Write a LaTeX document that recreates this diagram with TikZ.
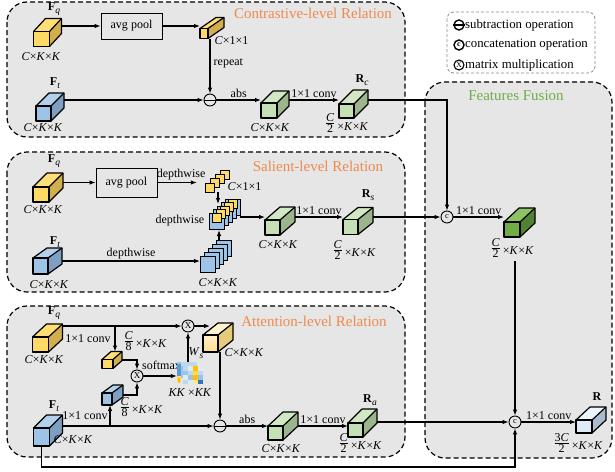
\documentclass[tikz,border=0pt]{standalone}
\usepackage{fontspec}
\setmainfont{Liberation Serif}
\usepackage{amsmath}
\usetikzlibrary{arrows.meta,calc}
\definecolor{panelgray}{HTML}{E6E6E6}
\definecolor{ttlorange}{HTML}{EE8A4E}
\definecolor{ttlgreen}{HTML}{70AD47}
\definecolor{ylwF}{HTML}{FFD966}\definecolor{ylwT}{HTML}{FFDE75}\definecolor{ylwS}{HTML}{D2AF4E}
\definecolor{bluF}{HTML}{9DC3E6}\definecolor{bluT}{HTML}{B4D1EC}\definecolor{bluS}{HTML}{7C9FC2}
\definecolor{grnF}{HTML}{C5E0B4}\definecolor{grnT}{HTML}{D2E7C4}\definecolor{grnS}{HTML}{9DB58D}
\definecolor{dgrF}{HTML}{70AD47}\definecolor{dgrT}{HTML}{8CC263}\definecolor{dgrS}{HTML}{548235}
\definecolor{pblF}{HTML}{DEEBF7}\definecolor{pblT}{HTML}{EEF5FB}\definecolor{pblS}{HTML}{A9BCCF}
\definecolor{pylF}{HTML}{FFE699}\definecolor{pylT}{HTML}{FFF2CC}\definecolor{pylS}{HTML}{E6CB7A}
\definecolor{mA}{HTML}{DEEBF7}\definecolor{mB}{HTML}{BDD7EE}\definecolor{mC}{HTML}{9DC3E6}
\definecolor{mD}{HTML}{2E75B6}\definecolor{mE}{HTML}{FFC000}\definecolor{mF}{HTML}{FFD966}
\definecolor{mG}{HTML}{FFE699}\definecolor{mH}{HTML}{5B9BD5}
\newcommand\ckk{\textit{C}×\textit{K}×\textit{K}}
\newcommand\kkx{\,\raisebox{-3.5pt}{×\textit{K}×\textit{K}}}
\newcommand\fracl[2]{$\genfrac{}{}{0.9pt}{}{\mbox{#1}}{\mbox{#2}}$}
\newcommand\sbs[1]{\raisebox{-2.6pt}{\fontsize{9.5}{10}\selectfont\textit{#1}}}
% name, cx, cy (front centre), w, h, dx, dy, colour prefix
\newcommand\cubeat[8]{%
  \fill[#8T] (#2-#4/2,#3-#5/2) -- ++(#6,-#7) -- ++(#4,0) -- (#2+#4/2,#3-#5/2) -- cycle;
  \fill[#8S] (#2+#4/2,#3-#5/2) -- ++(#6,-#7) -- ++(0,#5) -- (#2+#4/2,#3+#5/2) -- cycle;
  \draw[cubeedge] (#2-#4/2,#3-#5/2) -- ++(#6,-#7) -- ++(#4,0) -- ++(0,#5) -- (#2+#4/2,#3+#5/2);
  \draw[cubeedge] (#2+#4/2,#3-#5/2) -- ++(#6,-#7);
  \node[cubeedge, #8front, minimum width=#4, minimum height=#5, inner sep=0pt, outer sep=0pt] (#1f) at (#2,#3) {};
  \node[inner sep=0pt, outer sep=0pt, minimum width=#4+#6, minimum height=#5+#7] (#1) at (#2+#6/2,#3-#7/2) {};
}
\begin{document}
\begin{tikzpicture}[x=1pt,y=-1pt,
  font=\fontsize{12}{14}\selectfont,
  cubeedge/.style={draw=black, line width=1.2pt, line join=round},
  ylwfront/.style={fill=ylwF}, blufront/.style={fill=bluF}, grnfront/.style={fill=grnF},
  dgrfront/.style={fill=dgrF}, pblfront/.style={fill=pblF},
  pylfront/.style={top color=pylT, bottom color=pylF!90!orange},
  opc/.style={circle, draw, line width=0.9pt, minimum size=12pt, inner sep=0pt, font=\fontsize{8.5}{9}\selectfont},
  arr/.style={-{Latex[length=6pt,width=4.5pt]}, line width=1.05pt},
  lbl/.style={inner sep=1.5pt},
  opbox/.style={draw, line width=0.8pt, minimum width=61pt, minimum height=26pt, inner sep=0pt},
  panel/.style={draw, dash pattern=on 5pt off 3pt, line width=1.2pt, fill=panelgray, rounded corners=20pt},
  ttl/.style={font=\fontsize{15}{18}\selectfont, text=ttlorange, inner sep=0pt},
  stk/.style={draw=black, line width=0.6pt},
  lgtext/.style={font=\fontsize{12.8}{15}\selectfont, anchor=west, inner sep=0pt}
]
\useasboundingbox (0,0) rectangle (615,471);
% panels
\draw[panel] (7,2) rectangle (405,137);
\draw[panel] (7,152) rectangle (405,292);
\draw[panel] (7,306) rectangle (405,457);
\draw[panel] (425,82) rectangle (612,458);
\draw[draw=black!45, dash pattern=on 3pt off 2pt, line width=0.8pt, rounded corners=7pt] (447,12) rectangle (595,73);
% titles
\node[ttl] (t1) at (313,13) {Contrastive-level Relation};
\node[ttl] (t2) at (318,166) {Salient-level Relation};
\node[ttl] (t3) at (314,321) {Attention-level Relation};
\node[ttl, text=ttlgreen] (t4) at (516,96) {Features Fusion};
% legend
\node[opc, line width=1.4pt, minimum size=10pt] (lg1) at (459,25) {};
\draw[line width=1.6pt] (lg1.west) -- (lg1.east);
\node[lgtext] (lt1) at (465,25) {subtraction operation};
\node[opc, line width=1.4pt, minimum size=10pt, font=\fontsize{8}{8}\selectfont\bfseries] (lg2) at (459,45) {c};
\node[lgtext] (lt2) at (465,45) {concatenation operation};
\node[opc, line width=1.1pt, minimum size=10pt, font=\fontsize{8}{8}\selectfont] (lg3) at (459,65) {X};
\node[lgtext] (lt3) at (465,65) {matrix multiplication};

% ---------------- Contrastive-level ----------------
\cubeat{fq1}{41.5}{39}{16}{15}{12}{13}{ylw}
\node (lfq1) at (54,9) {\textbf{F}\sbs{q}};
\node (dfq1) at (41,57) {\ckk};
\node[opbox] (avg1) at (131.5,26) {avg pool};
\cubeat{prism}{204}{33.5}{8}{10}{16}{11}{ylw}
\node[anchor=west, lbl] (dpr) at (213,41) {\textit{C}×1×1};
\cubeat{ft1}{43.5}{113.5}{15}{15}{13}{13}{blu}
\node (lft1) at (55,83) {\textbf{F}\sbs{t}};
\node (dft1) at (43,128) {\ckk};
\node[opc] (sub1) at (210,100) {};
\draw[line width=0.9pt] (sub1.west) -- (sub1.east);
\cubeat{g1}{269}{110.5}{16}{15}{12}{12}{grn}
\node (dg1) at (270,128) {\ckk};
\cubeat{rc}{346.5}{111}{15}{14}{14}{14}{grn}
\node (lrc) at (362,80) {\textbf{R}\sbs{c}};
\node (drc) at (346.5,123.5) {\fracl{\textit{C}}{2}\kkx};
\draw[arr] (fq1.east |- avg1) -- (avg1.west);
\draw[arr] (avg1.east) -- (avg1.east -| prism.west);
\draw[arr] (prism.south -| sub1) -- (sub1.north);
\node[anchor=west, lbl] (rep) at (212,63) {repeat};
\draw[arr] (ft1.east |- sub1) -- (sub1.west);
\draw[arr] (sub1.east) -- node[above, lbl] (abs1) {abs} (sub1 -| g1.west);
\draw[arr] (g1.east |- sub1) -- node[above, lbl] (cv1) {1×1 conv} (sub1 -| rc.west);
\node[opc] (cat1) at (447,217) {c};
\draw[arr] (rc.east |- sub1) -| (cat1.north);

% ---------------- Salient-level ----------------
\cubeat{fq2}{41}{194.5}{16}{15}{14}{14}{ylw}
\node (lfq2) at (54,161) {\textbf{F}\sbs{q}};
\node (dfq2) at (43,210) {\ckk};
\node[opbox, minimum height=29pt] (avg2) at (126.5,182.5) {avg pool};
% yellow stack
\foreach \i in {3,2,1,0} {\draw[stk, fill=ylwF] ({205+5*\i},{192-4.3*\i}) rectangle ++(9,-9);}
\node[inner sep=0pt, minimum width=24pt, minimum height=22pt] (ystack) at (217,181) {};
\node[anchor=west, lbl] (dys) at (226,187) {\textit{C}×1×1};
% combined stack
\foreach \i in {4,3,2,1,0} {\draw[stk, fill=bluF] ({209+4*\i},{229-3.5*\i}) rectangle ++(15,-16);}
\foreach \i in {4,3,2,1,0} {\draw[stk, fill=ylwF] ({212.5+4*\i},{222-3.5*\i}) rectangle ++(9,-9);}
\node[inner sep=0pt, minimum width=31pt, minimum height=30pt] (comb) at (224.5,214) {};
\node[anchor=east, lbl] (dwl) at (206,221) {depthwise};
% lower blue stack
\foreach \i in {4,3,2,1,0} {\draw[stk, fill=bluF] ({200+4*\i},{272-4*\i}) rectangle ++(15,-16);}
\node[inner sep=0pt, minimum width=31pt, minimum height=32pt] (bstack) at (215.5,256) {};
\node (dbs) at (218,283) {\ckk};
\cubeat{ft2}{40.5}{266}{15}{16}{14}{10}{blu}
\node (lft2) at (55,242) {\textbf{F}\sbs{t}};
\node (dft2) at (49,285) {\ckk};
\cubeat{g2}{272.5}{227.5}{15}{15}{15}{13}{grn}
\node (dg2) at (278,245) {\ckk};
\cubeat{rs}{350.5}{227}{15}{15}{15}{12}{grn}
\node (lrs) at (368,195) {\textbf{R}\sbs{s}};
\node (drs) at (354,250) {\fracl{\textit{C}}{2}\kkx};
\coordinate (ysout) at (218,192);
\coordinate (cbin) at (218,204);
\coordinate (bsin) at (200,261);
\coordinate (bsup) at (219,240);
\coordinate (cbdn) at (219,230);
\coordinate (cbout) at (240,217);
\draw[arr] (fq2.east |- avg2) -- (avg2.west);
\draw[arr, shorten >=8pt] (avg2.east) -- node[above, lbl] (dw1) {depthwise} (avg2.east -| ystack.west);
\draw[arr] (ysout) -- (cbin);
\draw[arr] (ft2.east |- bsin) -- node[above, lbl] (dw2) {depthwise} (bsin);
\draw[arr] (bsup) -- (cbdn);
\draw[arr] (cbout) -- (cbout -| g2.west);
\draw[arr] (g2.east |- cbout) -- node[above, lbl] (cv2) {1×1 conv} (cbout -| rs.west);
\draw[arr] (rs.east |- cat1) -- (cat1.west);

% ---------------- Features fusion ----------------
\cubeat{dg}{512}{229.5}{16}{15}{15}{14}{dgr}
\node (ddg) at (512,248) {\fracl{\textit{C}}{2}\kkx};
\draw[arr] (cat1.east) -- node[above, lbl] (cv3) {1×1 conv} (cat1 -| dg.west);
\node[opc] (cat2) at (515,422) {c};
\draw[arr] (cat2 |- ddg.south) -- (cat2.north);
\cubeat{rfin}{584}{426.5}{16}{13}{14}{13}{pbl}
\node (lr) at (597,397) {\textbf{R}};
\node (dr) at (578,443) {\fracl{3\textit{C}}{2}\kkx};
\draw[arr] (cat2.east) -- node[above, lbl] (cv4) {1×1 conv} (cat2 -| rfin.west);

% ---------------- Attention-level ----------------
\cubeat{fqA}{40.5}{344.5}{16}{15}{14}{13}{ylw}
\node (lfqA) at (54,313) {\textbf{F}\sbs{q}};
\node (dfqA) at (44,360) {\ckk};
\node[opc, font=\fontsize{9}{9}\selectfont] (mul1) at (188,326) {X};
\coordinate (j1) at (115,326);
\draw[arr] (fqA.east |- mul1) -- (mul1.west);
\cubeat{yq}{107.5}{364}{11}{9}{9}{8}{ylw}
\node (cva) at (88,339) {1×1 conv};
\node (dyq) at (145,341) {\fracl{\textit{C}}{8}\kkx};
\draw[arr] (j1) -- (j1 |- yq.north);
\node[opc, font=\fontsize{9}{9}\selectfont] (mul2) at (137,376) {X};
\draw[arr] (yq.east) -| (mul2.north);
\node[anchor=west, inner sep=0pt] (smx) at (142,365) {softmax};
\cubeat{bq}{107}{399}{10}{12}{11}{8}{blu}
\node (dbq) at (141,407) {\fracl{\textit{C}}{8}\kkx};
\draw[arr] (bq.east) -| (mul2.south);
\cubeat{ftA}{41.5}{437}{16}{18}{13}{13}{blu}
\node (lftA) at (54,406) {\textbf{F}\sbs{t}};
\node (dftA) at (73,440) {\ckk};
\node (cvb) at (85,416) {1×1 conv};
\node[opc] (sub3) at (220,426) {};
\draw[line width=0.9pt] (sub3.west) -- (sub3.east);
\coordinate (j2) at (110,426);
\draw[arr] (ftA.east |- sub3) -- (sub3.west);
\draw[arr] (j2) -- (j2 |- bq.south);
% attention map
\fill[mC] (177,362) rectangle (197,378);
\fill[mH] (177,364) rectangle (181,376);
\fill[mB] (181,362) rectangle (197,366);
\fill[mF] (177,376) rectangle (181,382);
\fill[mE] (178,378) rectangle (180,383);
\foreach \cc/\rr/\col in {0/0/mB,1/0/mA,2/0/mE,3/0/mA,
                          0/1/mC,1/1/mB,2/1/mF,3/1/mB,
                          0/2/mA,1/2/mC,2/2/mE,3/2/mC,
                          0/3/mB,1/3/mA,2/3/mG,3/3/mD}
  {\fill[\col] ({183+5*\cc},{366+4.5*\rr}) rectangle ++(5,4.5);}
\node[inner sep=0pt, minimum width=26pt, minimum height=22pt] (attmap) at (190,373) {};
\node (datt) at (190,393) {\textit{KK} ×\textit{KK}};
\node (lws) at (196,353) {\textit{W}\sbs{s}};
\draw[arr] (mul2.east) -- (mul2 -| attmap.west);
\draw[arr] (attmap.north -| mul1) -- (mul1.south);
\cubeat{pale}{210.5}{343.5}{15}{17}{15}{12}{pyl}
\node (dpale) at (244,353) {\ckk};
\draw[arr] (mul1.east) -- ($(mul1 -| pale.west)+(7,0)$);
\draw[arr] (sub3 |- palef.south) -- (sub3.north);
\cubeat{g3}{275.5}{433}{15}{14}{15}{14}{grn}
\node (dg3) at (281,449) {\ckk};
\cubeat{ra}{355.5}{430}{15}{14}{14}{14}{grn}
\node (lra) at (370,400) {\textbf{R}\sbs{a}};
\node (dra) at (360,443) {\fracl{\textit{C}}{2}\kkx};
\draw[arr] (sub3.east) -- node[above, lbl] (abs3) {abs} (sub3 -| g3.west);
\draw[arr] (g3.east |- sub3) -- node[above, lbl] (cv5) {1×1 conv} (sub3 -| ra.west);
\draw[arr] (ra.east |- cat2) -- (cat2.west);
\draw[arr] (ftAf.south) -- ++(0,21) -| (cat2.south);
\end{tikzpicture}
\end{document}
